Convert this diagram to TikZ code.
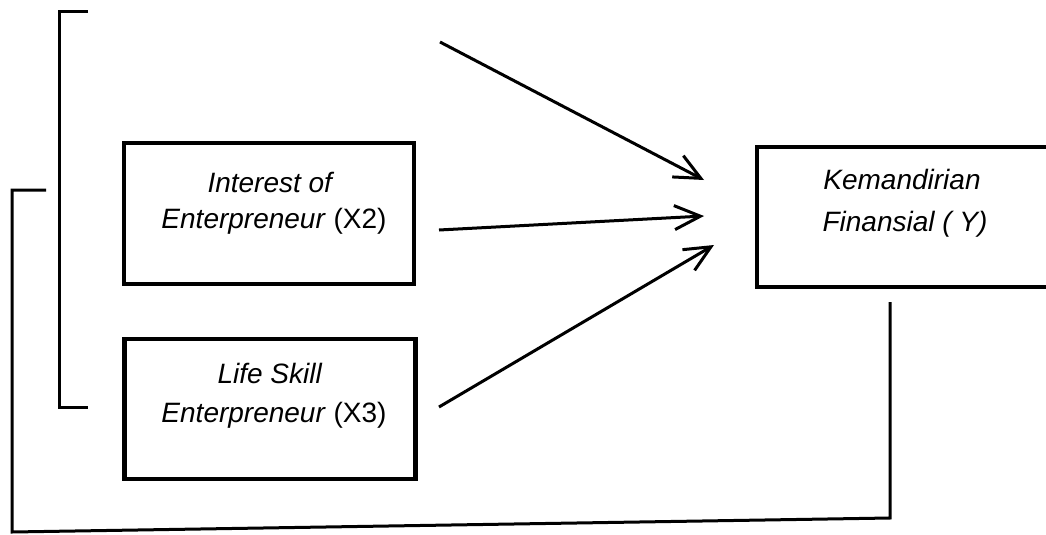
\documentclass[tikz,border=0pt]{standalone}
\usepackage{fontspec}
\setmainfont{Liberation Sans}
\usetikzlibrary{arrows.meta}
\begin{document}
\begin{tikzpicture}[x=1pt,y=-1pt,line width=3pt,line cap=butt,line join=miter,
  box/.style={draw,line width=4.5pt,inner sep=0pt},
  lbl/.style={font=\fontsize{28}{36}\selectfont,inner sep=0pt,anchor=base},
  arr/.style={-{Straight Barb[length=26pt,width=24pt,line width=3pt]}}]
\useasboundingbox (0,0) rectangle (1046,535);
% boxes
\node[box,minimum width=290pt,minimum height=141pt] (x2) at (269,213.5) {};
\node[box,minimum width=291pt,minimum height=140pt] (x3) at (270,409) {};
\node[box,minimum width=296pt,minimum height=140pt] (y) at (905,217) {};
% labels
\node[lbl] (x2a) at (271,192) {\textit{Interest of}};
\node[lbl] (x2b) at (274,228) {\textit{Enterpreneur} (X2)};
\node[lbl] (x3a) at (270,383) {\textit{Life Skill}};
\node[lbl] (x3b) at (274,422) {\textit{Enterpreneur} (X3)};
\node[lbl] (ya) at (902,189) {\textit{Kemandirian}};
\node[lbl] (yb) at (905,231) {\textit{Finansial ( Y)}};
% coordinates
\coordinate (a1s) at (440,42);
\coordinate (a1e) at (704,180);
\coordinate (a2s) at (439,230);
\coordinate (a2e) at (704,216);
\coordinate (a3s) at (439,407);
\coordinate (a3e) at (714,245);
\coordinate (b1) at (88,12);
\coordinate (b2) at (59,12);
\coordinate (b3) at (59,407);
\coordinate (b4) at (88,407);
\coordinate (c1) at (890,302);
\coordinate (c2) at (890,518);
\coordinate (c3) at (12,532);
\coordinate (c4) at (12,190);
\coordinate (c5) at (46,190);
% arrows
\draw[arr] (a1s) -- (a1e);
\draw[arr] (a2s) -- (a2e);
\draw[arr] (a3s) -- (a3e);
% brackets
\draw (b1) -- (b2) -- (b3) -- (b4);
\draw (c1) -- (c2) -- (c3) -- (c4) -- (c5);
\end{tikzpicture}
\end{document}
